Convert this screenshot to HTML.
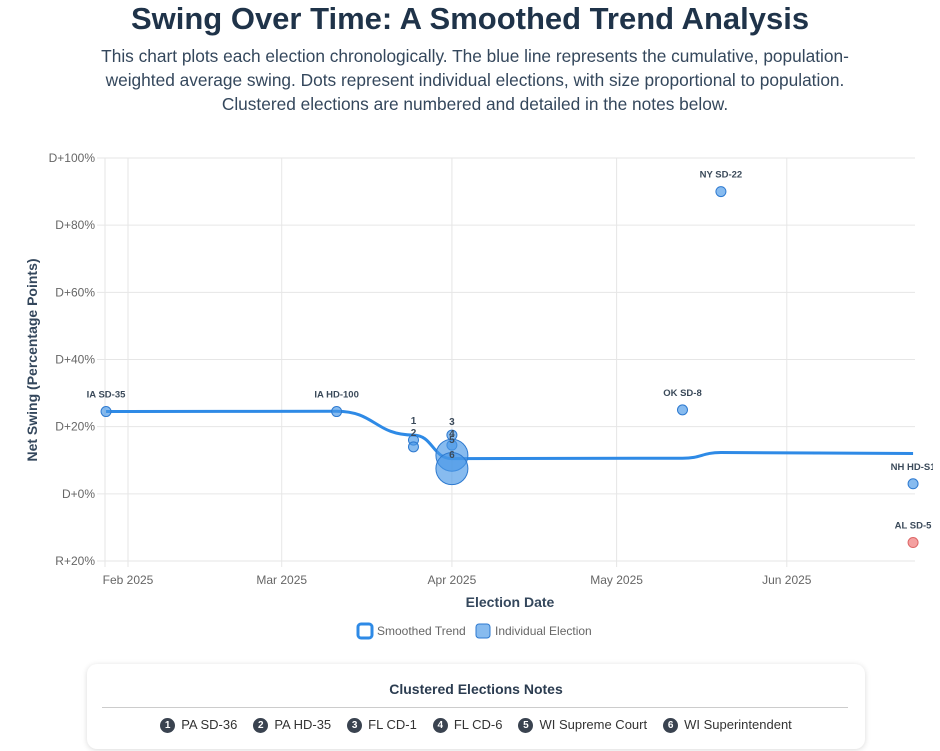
<!DOCTYPE html>
<html><head><meta charset="utf-8"><style>
body{margin:0;background:#fff;font-family:"Liberation Sans",sans-serif;width:940px;height:751px;overflow:hidden;position:relative}
h1{margin:0;position:absolute;top:0;left:0;width:940px;text-align:center;font-size:31px;font-weight:bold;color:#1f3349;line-height:38px}
.sub{position:absolute;top:44px;left:90px;width:770px;text-align:center;font-size:17.3px;color:#34475c;line-height:24px}
.notes{position:absolute;left:87px;top:664px;width:778px;height:85px;border-radius:10px;box-shadow:0 1px 6px rgba(0,0,0,.15);background:#fff}
.notes h3{margin:0;position:absolute;top:17px;width:100%;text-align:center;font-size:14px;color:#2b3c50}
.notes hr{position:absolute;top:43px;left:15px;width:746px;margin:0;border:0;border-top:1px solid #ccc}
.items{position:absolute;top:53px;width:100%;display:flex;justify-content:center;font-size:13px;color:#333;line-height:16px}
.items span{margin:0 8px;display:flex;align-items:center}
.b{display:inline-block;width:15px;height:15px;border-radius:50%;background:#3a4350;color:#fff;font-size:10px;line-height:15px;text-align:center;font-weight:bold;margin-right:6px;font-style:normal}
</style></head><body>
<h1>Swing Over Time: A Smoothed Trend Analysis</h1>
<div class="sub">This chart plots each election chronologically. The blue line represents the cumulative, population-weighted average swing. Dots represent individual elections, with size proportional to population. Clustered elections are numbered and detailed in the notes below.</div>
<svg id="c" width="940" height="660" style="position:absolute;top:0;left:0"></svg>
<div class="notes">
<h3>Clustered Elections Notes</h3><hr>
<div class="items">
<span><i class="b">1</i>PA SD-36</span>
<span><i class="b">2</i>PA HD-35</span>
<span><i class="b">3</i>FL CD-1</span>
<span><i class="b">4</i>FL CD-6</span>
<span><i class="b">5</i>WI Supreme Court</span>
<span><i class="b">6</i>WI Superintendent</span>
</div></div>
<script>
const names=["IA SD-35","IA HD-100","1","2","3","4","5","6","OK SD-8","NY SD-22","NH HD-S1","AL SD-5"];
const dates=["2025-01-28","2025-03-11","2025-03-25","2025-03-25","2025-04-01","2025-04-01","2025-04-01","2025-04-01","2025-05-13","2025-05-20","2025-06-24","2025-06-24"];
const swings=[24.5,24.5,16,14,17.5,14.5,11.5,7.5,25,90,3,-14.5];
const radii=[5,5,5,5,5,5,16,16,5,5,5,5];
const trend=[24.5,24.6,17.5,17.5,10.5,10.5,10.5,10.5,10.6,12.3,12,12];
const yTicks=[100,80,60,40,20,0,-20];
const xTicks=["2025-02-01","2025-03-01","2025-04-01","2025-05-01","2025-06-01"];
const xTickLabels=["Feb 2025","Mar 2025","Apr 2025","May 2025","Jun 2025"];
const NS="http://www.w3.org/2000/svg",svg=document.getElementById('c');
const L=105,R=915,T=158,B=561;
const day=d=>Date.parse(d)/864e5, d0=day("2025-02-01");
const x=d=>128+(day(d)-d0)*5.49;
const y=v=>T+(100-v)/120*(B-T);
function el(t,a,p){const e=document.createElementNS(NS,t);for(const k in a)e.setAttribute(k,a[k]);(p||svg).appendChild(e);return e;}
const defs=el('defs',{});const cp=el('clipPath',{id:'cp'},defs);el('rect',{x:0,y:0,width:R+18,height:660},cp);
yTicks.forEach(v=>{
const g=el('line',{x1:L-8,x2:R,y1:y(v),y2:y(v),stroke:'#e6e6e6'});


const t=el('text',{x:L-10,y:y(v)+4,'text-anchor':'end','font-size':12,fill:'#666'});
t.textContent=(v<0?'R+'+(-v):'D+'+v)+'%';


});
el('line',{x1:L,x2:L,y1:T,y2:B+6,stroke:'#e6e6e6'});
xTicks.forEach((d,i)=>{
const g=el('line',{x1:x(d),x2:x(d),y1:T,y2:B+6,stroke:'#e6e6e6'});


const t=el('text',{x:x(d),y:B+23,'text-anchor':'middle','font-size':12,fill:'#666'});
t.textContent=xTickLabels[i];


});
const yt=el('text',{x:0,y:0,transform:'translate(37,360) rotate(-90)','text-anchor':'middle','font-size':14,'font-weight':'bold',fill:'#34475c'});
yt.textContent='Net Swing (Percentage Points)';


const xt=el('text',{x:510,y:607,'text-anchor':'middle','font-size':14,'font-weight':'bold',fill:'#34475c'});
xt.textContent='Election Date';


const pts=[];dates.forEach((d,i)=>{const px=x(d);if(!pts.length||pts[pts.length-1][0]!==px)pts.push([px,y(trend[i])]);});
let dpath='M'+pts[0][0]+','+pts[0][1];
for(let i=1;i<pts.length;i++){const a=pts[i-1],b=pts[i],m=(a[0]+b[0])/2;dpath+=` C${m},${a[1]} ${m},${b[1]} ${b[0]},${b[1]}`;}
const ln=el('path',{d:dpath,fill:'none',stroke:'#2e8ae6','stroke-width':3});


dates.forEach((d,i)=>{
const red=swings[i]<0;
const c=el('circle',{cx:x(d),cy:y(swings[i]),r:radii[i],fill:red?'rgba(240,120,120,.7)':'rgba(70,150,230,.65)',stroke:red?'#d66':'#2e7ad0','stroke-width':1});


});
const labY={"1":419,"2":431,"3":420,"4":432,"5":438,"6":453};
names.forEach((n,i)=>{
const num=labY[n];
const t=el('text',{x:x(dates[i]),y:num?labY[n]+5:y(swings[i])-14,'text-anchor':'middle','font-size':num?10:9.5,'font-weight':'bold',fill:'#3b4a5a','clip-path':'url(#cp)'});
t.textContent=n;


});
const lg=el('g',{});


el('rect',{x:358,y:624,width:14,height:14,rx:3,fill:'#fff',stroke:'#2e8ae6','stroke-width':3},lg);
const l1=el('text',{x:377,y:635,'font-size':12,fill:'#666'},lg);l1.textContent='Smoothed Trend';
el('rect',{x:476,y:624,width:14,height:14,rx:3,fill:'rgba(70,150,230,.65)',stroke:'#2e7ad0','stroke-width':1},lg);
const l2=el('text',{x:495,y:635,'font-size':12,fill:'#666'},lg);l2.textContent='Individual Election';
</script>
</body></html>
